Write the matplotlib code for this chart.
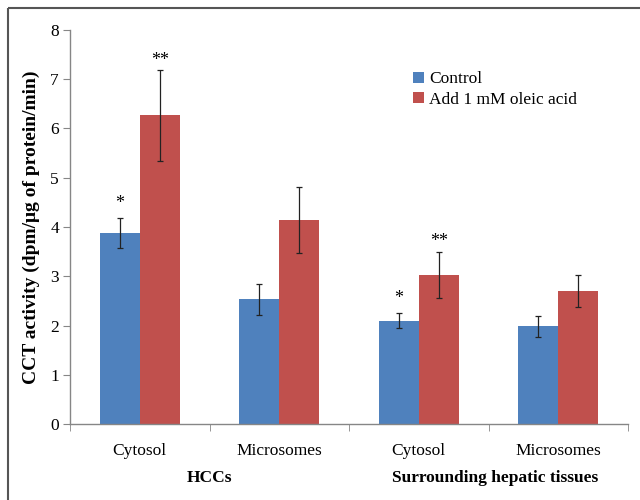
import matplotlib.pyplot as plt
import matplotlib.patches as mpatches
import matplotlib.transforms as mtransforms
import numpy as np

plt.rcParams['font.family'] = ['Liberation Serif', 'DejaVu Serif']

categories = ['Cytosol', 'Microsomes', 'Cytosol', 'Microsomes']
groups = ['HCCs', 'Surrounding hepatic tissues']
control = [3.88, 2.53, 2.10, 1.98]
control_err = [0.30, 0.31, 0.15, 0.21]
oleic = [6.27, 4.14, 3.03, 2.70]
oleic_err = [0.92, 0.67, 0.47, 0.33]
stars_control = ['*', '', '*', '']
stars_oleic = ['**', '', '**', '']

BLUE = '#4F81BD'
RED = '#C0504D'
AXIS_GRAY = '#868686'

fig = plt.figure(figsize=(6.4, 5.0), dpi=100)
ax = fig.add_axes([0.1094, 0.152, 0.8719, 0.788])

x = np.arange(len(categories))
w = 0.287
err_kw = dict(ecolor='#222222', elinewidth=0.9, capsize=2.5, capthick=0.9)
ax.bar(x - w / 2, control, w, yerr=control_err, color=BLUE, label='Control',
       error_kw=err_kw)
ax.bar(x + w / 2, oleic, w, yerr=oleic_err, color=RED, label='Add 1 mM oleic acid',
       error_kw=err_kw)

# significance marks above the error bars
for i in range(len(categories)):
    if stars_control[i]:
        ax.text(x[i] - w / 2, control[i] + control_err[i] + 0.3, stars_control[i],
                ha='center', va='center', fontsize=13)
    if stars_oleic[i]:
        ax.text(x[i] + w / 2, oleic[i] + oleic_err[i] + 0.2, stars_oleic[i],
                ha='center', va='center', fontsize=13)

ax.set_xlim(-0.5, 3.5)
ax.set_ylim(0, 8)
ax.set_yticks(range(0, 9))
ax.set_xticks(x)
ax.set_xticklabels(categories, fontsize=12.5)
ax.set_xticks([-0.5, 0.5, 1.5, 2.5, 3.5], minor=True)
ax.tick_params(axis='x', which='major', length=0, pad=14)
ax.tick_params(axis='x', which='minor', length=5, color=AXIS_GRAY, direction='out')
ax.tick_params(axis='y', labelsize=12.5, length=5, color=AXIS_GRAY, pad=3)

for side in ['top', 'right']:
    ax.spines[side].set_visible(False)
for side in ['left', 'bottom']:
    ax.spines[side].set_color(AXIS_GRAY)
    ax.spines[side].set_linewidth(1.0)

ax.set_ylabel('CCT activity (dpm/μg of protein/min)', fontsize=14, fontweight='bold',
              labelpad=7)

trans = mtransforms.blended_transform_factory(ax.transData, ax.transAxes)
ax.text(0.5, -0.137, groups[0], transform=trans, ha='center', va='center',
        fontsize=12.5, fontweight='bold')
ax.text(2.55, -0.137, groups[1], transform=trans, ha='center', va='center',
        fontsize=12.5, fontweight='bold')

ax.legend(loc='upper left', bbox_to_anchor=(0.615, 0.895), frameon=False,
          fontsize=12.5, handlelength=0.6, handleheight=0.6, handletextpad=0.3,
          labelspacing=0.25, borderpad=0, borderaxespad=0)

# outer frame (left and top edges visible, rest cropped)
frame = mpatches.Rectangle((8, 8), 700, 600, transform=None, fill=False,
                           edgecolor='#555555', linewidth=1.5)
frame.set_transform(mtransforms.Affine2D().scale(1, -1).translate(0, 500))
fig.patches.append(frame)

fig.savefig('out.png', dpi=100)
